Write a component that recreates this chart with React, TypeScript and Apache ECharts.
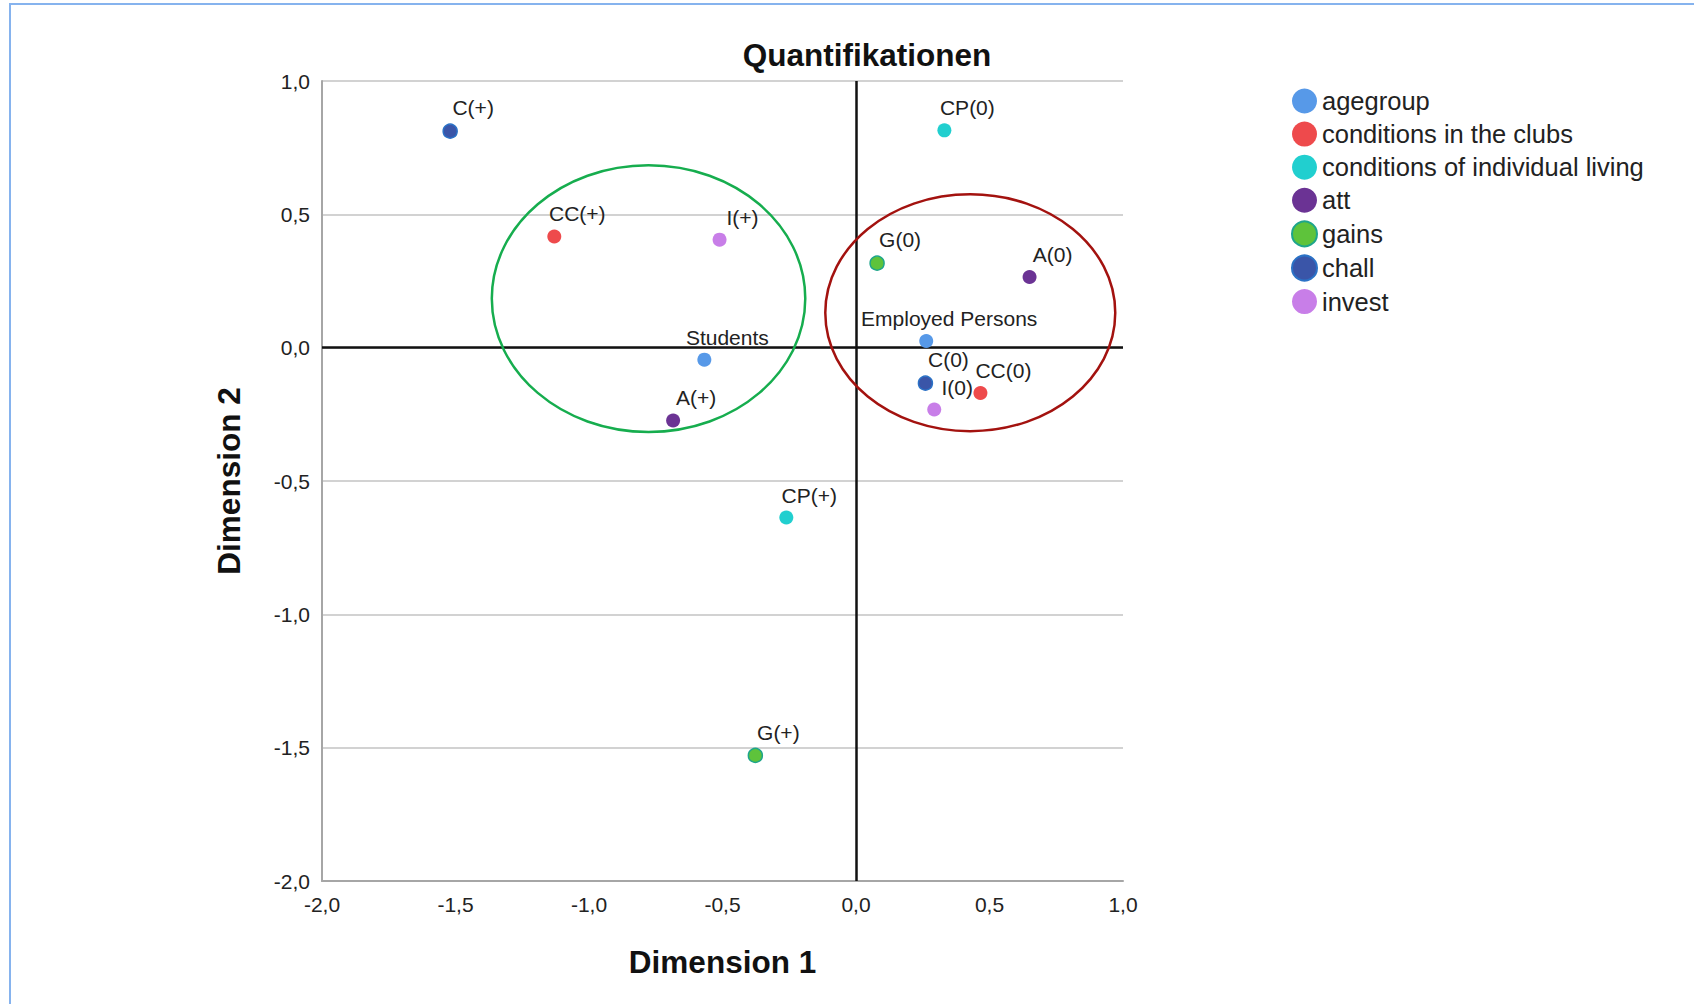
import React, { useEffect, useRef } from "react";
import * as echarts from "echarts";

const chartTitle = "Quantifikationen";
const xAxisName = "Dimension 1";
const yAxisName = "Dimension 2";

const seriesNames = [
  "agegroup",
  "conditions in the clubs",
  "conditions of individual living",
  "att",
  "gains",
  "chall",
  "invest",
];

const pointLabels = [
  ["Students", "Employed Persons"],
  ["CC(+)", "CC(0)"],
  ["CP(+)", "CP(0)"],
  ["A(+)", "A(0)"],
  ["G(+)", "G(0)"],
  ["C(+)", "C(0)"],
  ["I(+)", "I(0)"],
];

const dim1Values = [
  [-0.568, 0.263],
  [-1.13, 0.466],
  [-0.261, 0.331],
  [-0.685, 0.65],
  [-0.377, 0.079],
  [-1.52, 0.26],
  [-0.511, 0.293],
];

const dim2Values = [
  [-0.045, 0.025],
  [0.417, -0.17],
  [-0.637, 0.815],
  [-0.273, 0.265],
  [-1.529, 0.317],
  [0.812, -0.133],
  [0.405, -0.232],
];

const axisMin = -2;
const axisMax = 1;
const axisStep = 0.5;

// annotation ellipses in data units: [centerX, centerY, radiusX, radiusY]
const groupEllipses = [
  [-0.777, 0.184, 0.587, 0.5],
  [0.428, 0.131, 0.543, 0.444],
];

const palette = ["#5799e8", "#ee4a4c", "#21cfcf", "#6b3394", "#5ec33b", "#3a55a8", "#c87ee8"];
const borderPalette = [null, null, null, null, "#1ea58c", "#2b72c6", null];
const ellipseColors = ["#16ad4e", "#a3120f"];

const FONT = "Liberation Sans, Arial, sans-serif";

export default function App() {
  const ref = useRef<HTMLDivElement>(null);

  useEffect(() => {
    document.body.style.margin = "0";
    const chart = echarts.init(ref.current!, null, { renderer: "svg" });
    const fmt = (v: number) => v.toFixed(1).replace(".", ",");

    const scatterSeries = seriesNames.map((name, i) => ({
      type: "scatter",
      name,
      symbol: "circle",
      symbolSize: 14,
      z: 5,
      itemStyle: {
        color: palette[i],
        opacity: 1,
        ...(borderPalette[i] ? { borderColor: borderPalette[i], borderWidth: 1.5 } : {}),
      },
      label: {
        show: true,
        position: "top",
        distance: 5,
        offset: [23, 0],
        formatter: (p: any) => p.name,
        fontSize: 21,
        fontFamily: FONT,
        color: "#222",
      },
      emphasis: { disabled: true },
      data: pointLabels[i].map((lab, j) => ({
        name: lab,
        value: [dim1Values[i][j], dim2Values[i][j]],
      })),
      ...(i === 0
        ? {
            markLine: {
              silent: true,
              symbol: ["none", "none"],
              label: { show: false },
              lineStyle: { color: "#111", width: 2.5, type: "solid" },
              data: [{ xAxis: 0 }, { yAxis: 0 }],
              z: 2,
            },
          }
        : {}),
    }));

    const option: any = {
      animation: false,
      backgroundColor: "#ffffff",
      title: {
        text: chartTitle,
        left: 862,
        top: 34,
        textAlign: "center",
        textStyle: { fontSize: 31.5, fontWeight: "bold", fontFamily: FONT, color: "#111" },
      },
      graphic: [
        {
          type: "rect",
          silent: true,
          shape: { x: 10, y: 4, width: 1720, height: 1040 },
          style: { fill: "none", stroke: "#86b3ee", lineWidth: 2 },
        },
      ],
      legend: {
        orient: "vertical",
        left: 1286,
        top: 83,
        icon: "circle",
        itemWidth: 25,
        itemHeight: 25,
        itemGap: 7.1,
        data: seriesNames,
        textStyle: { fontSize: 25.5, fontFamily: FONT, color: "#222", lineHeight: 25 },
      },
      grid: { left: 322, top: 81, width: 801, height: 800, containLabel: false },
      xAxis: {
        type: "value",
        min: axisMin,
        max: axisMax,
        interval: axisStep,
        name: xAxisName,
        nameLocation: "middle",
        nameGap: 65,
        nameTextStyle: { fontSize: 31.5, fontWeight: "bold", fontFamily: FONT, color: "#111" },
        axisLine: { show: true, onZero: false, lineStyle: { color: "#a6a6a6", width: 2 } },
        axisTick: { show: false },
        splitLine: { show: false },
        axisLabel: { fontSize: 21, fontFamily: FONT, color: "#222", margin: 13, formatter: fmt },
      },
      yAxis: {
        type: "value",
        min: axisMin,
        max: axisMax,
        interval: axisStep,
        name: yAxisName,
        nameLocation: "middle",
        nameGap: 77,
        nameTextStyle: { fontSize: 31.5, fontWeight: "bold", fontFamily: FONT, color: "#111" },
        axisLine: { show: true, onZero: false, lineStyle: { color: "#a6a6a6", width: 2 } },
        axisTick: { show: false },
        splitLine: { show: true, lineStyle: { color: "#d2d2d2", width: 2 } },
        axisLabel: {
          fontSize: 21,
          fontFamily: FONT,
          color: "#222",
          margin: 12,
          padding: [8, 0, 0, 0],
          formatter: fmt,
        },
      },
      series: [
        {
          type: "custom",
          name: "ellipses",
          silent: true,
          clip: false,
          z: 3,
          renderItem: (params: any, api: any) => {
            const c = api.coord([api.value(0), api.value(1)]);
            const s = api.size([api.value(2), api.value(3)]);
            return {
              type: "ellipse",
              shape: { cx: c[0], cy: c[1], rx: s[0], ry: s[1] },
              style: { fill: "none", stroke: ellipseColors[params.dataIndex], lineWidth: 2.5 },
            };
          },
          data: groupEllipses,
        },
        ...scatterSeries,
      ],
    };

    chart.setOption(option);
    return () => chart.dispose();
  }, []);

  return <div ref={ref} style={{ width: 1694, height: 1004 }} />;
}
